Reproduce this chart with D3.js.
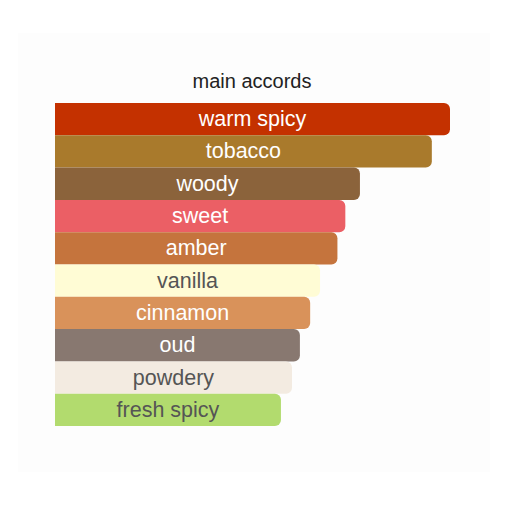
<!DOCTYPE html>
<html>
<head>
<meta charset="utf-8">
<script src="https://cdn.jsdelivr.net/npm/d3@7"></script>
<style>
  html, body { margin: 0; padding: 0; background: #ffffff; }
  svg { display: block; }
</style>
</head>
<body>
<svg id="chart" width="510" height="510"></svg>
<script>
const title = "main accords";
const accords = ["warm spicy", "tobacco", "woody", "sweet", "amber", "vanilla", "cinnamon", "oud", "powdery", "fresh spicy"];
const strengths = [100, 95.4, 77.2, 73.5, 71.5, 67.1, 64.6, 62.0, 60.0, 57.2];
const barColors = ["#c43100", "#a97a2c", "#8b633b", "#eb5f65", "#c5743d", "#fffcd5", "#d9925a", "#887870", "#f3ebe1", "#b2db6e"];
const labelColors = ["#ffffff", "#ffffff", "#ffffff", "#ffffff", "#ffffff", "#555555", "#ffffff", "#ffffff", "#555555", "#555555"];

const data = accords.map((name, i) => ({ name, value: strengths[i], color: barColors[i], text: labelColors[i] }));

const svg = d3.select("#chart");

// faint panel
svg.append("rect")
  .attr("x", 18).attr("y", 33).attr("width", 472).attr("height", 439)
  .attr("fill", "#fdfdfd");

const x = d3.scaleLinear().domain([0, 100]).range([55, 450]);
const y = d3.scaleBand().domain(accords).range([103, 426]).padding(0);

svg.append("text")
  .attr("x", 252)
  .attr("y", 87.5)
  .attr("text-anchor", "middle")
  .attr("font-family", "Liberation Sans, Arial, sans-serif")
  .attr("font-size", 20)
  .attr("fill", "#222222")
  .text(title);

const r = 6;
function barPath(d) {
  const x0 = x(0), x1 = x(d.value), y0 = y(d.name), h = y.bandwidth();
  const p = d3.path();
  p.moveTo(x0, y0);
  p.lineTo(x1 - r, y0);
  p.arcTo(x1, y0, x1, y0 + r, r);
  p.lineTo(x1, y0 + h - r);
  p.arcTo(x1, y0 + h, x1 - r, y0 + h, r);
  p.lineTo(x0, y0 + h);
  p.closePath();
  return p.toString();
}

const g = svg.append("g");
g.selectAll("path.bar")
  .data(data)
  .join("path")
  .attr("class", "bar")
  .attr("d", barPath)
  .attr("fill", d => d.color);

g.selectAll("text.label")
  .data(data)
  .join("text")
  .attr("class", "label")
  .attr("x", d => (x(0) + x(d.value)) / 2)
  .attr("y", d => y(d.name) + y.bandwidth() / 2 + 7)
  .attr("text-anchor", "middle")
  .attr("font-family", "Liberation Sans, Arial, sans-serif")
  .attr("font-size", 21.5)
  .attr("fill", d => d.text)
  .text(d => d.name);
</script>
</body>
</html>
